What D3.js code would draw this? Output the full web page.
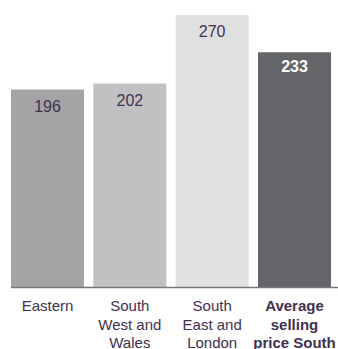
<!DOCTYPE html>
<html>
<head>
<meta charset="utf-8">
<script src="https://cdn.jsdelivr.net/npm/d3@7"></script>
<style>
  html, body { margin: 0; padding: 0; background: #fff; }
  svg { display: block; font-family: "Liberation Sans", Arial, sans-serif; }
</style>
</head>
<body>
<div id="chart"></div>
<script>
(function() {

  var width = 338,
      height = 349;

  var categories = [
    ["Eastern"],
    ["South", "West and", "Wales"],
    ["South", "East and", "London"],
    ["Average", "selling", "price South"]
  ];
  var values = [196, 202, 270, 233];
  var barColors = ["#a4a4a6", "#c1c1c3", "#e0e0e0", "#646569"];

  var baseline = 287;

  var x = d3.scaleBand()
      .domain(d3.range(values.length))
      .range([11, 331])
      .paddingInner(0.113)
      .paddingOuter(0);

  var y = d3.scaleLinear()
      .domain([0, 270])
      .range([baseline, 15]);

  var svg = d3.select("#chart").append("svg")
      .attr("width", width)
      .attr("height", height);

  svg.selectAll("rect.bar")
      .data(values)
    .enter().append("rect")
      .attr("class", "bar")
      .attr("x", function(d, i) { return x(i); })
      .attr("y", function(d) { return y(d); })
      .attr("width", x.bandwidth())
      .attr("height", function(d) { return baseline - y(d); })
      .style("fill", function(d, i) { return barColors[i]; });

  // value labels inside bars
  svg.selectAll("text.value")
      .data(values)
    .enter().append("text")
      .attr("class", "value")
      .attr("x", function(d, i) { return x(i) + x.bandwidth() / 2; })
      .attr("y", function(d, i) { return y(d) + (i == 3 ? 20 : 22); })
      .attr("text-anchor", "middle")
      .style("font-size", "16px")
      .style("font-weight", function(d, i) { return i == 3 ? "bold" : "normal"; })
      .style("fill", function(d, i) { return i == 3 ? "#ffffff" : "#3f3150"; })
      .text(function(d) { return d; });

  // baseline
  svg.append("line")
      .attr("x1", 11)
      .attr("x2", width)
      .attr("y1", baseline + 0.5)
      .attr("y2", baseline + 0.5)
      .style("stroke", "#77777a")
      .style("stroke-width", 1.5);

  // category labels
  var labels = svg.selectAll("text.cat")
      .data(categories)
    .enter().append("text")
      .attr("class", "cat")
      .attr("text-anchor", "middle")
      .style("font-size", "15px")
      .style("font-weight", function(d, i) { return i == 3 ? "bold" : "normal"; })
      .style("fill", "#3f3150");

  labels.selectAll("tspan")
      .data(function(d, i) { return d.map(function(t) { return {t: t, i: i}; }); })
    .enter().append("tspan")
      .attr("x", function(d) { return x(d.i) + x.bandwidth() / 2; })
      .attr("y", function(d, j) { return 311 + j * 18.5; })
      .text(function(d) { return d.t; });

})();
</script>
</body>
</html>
